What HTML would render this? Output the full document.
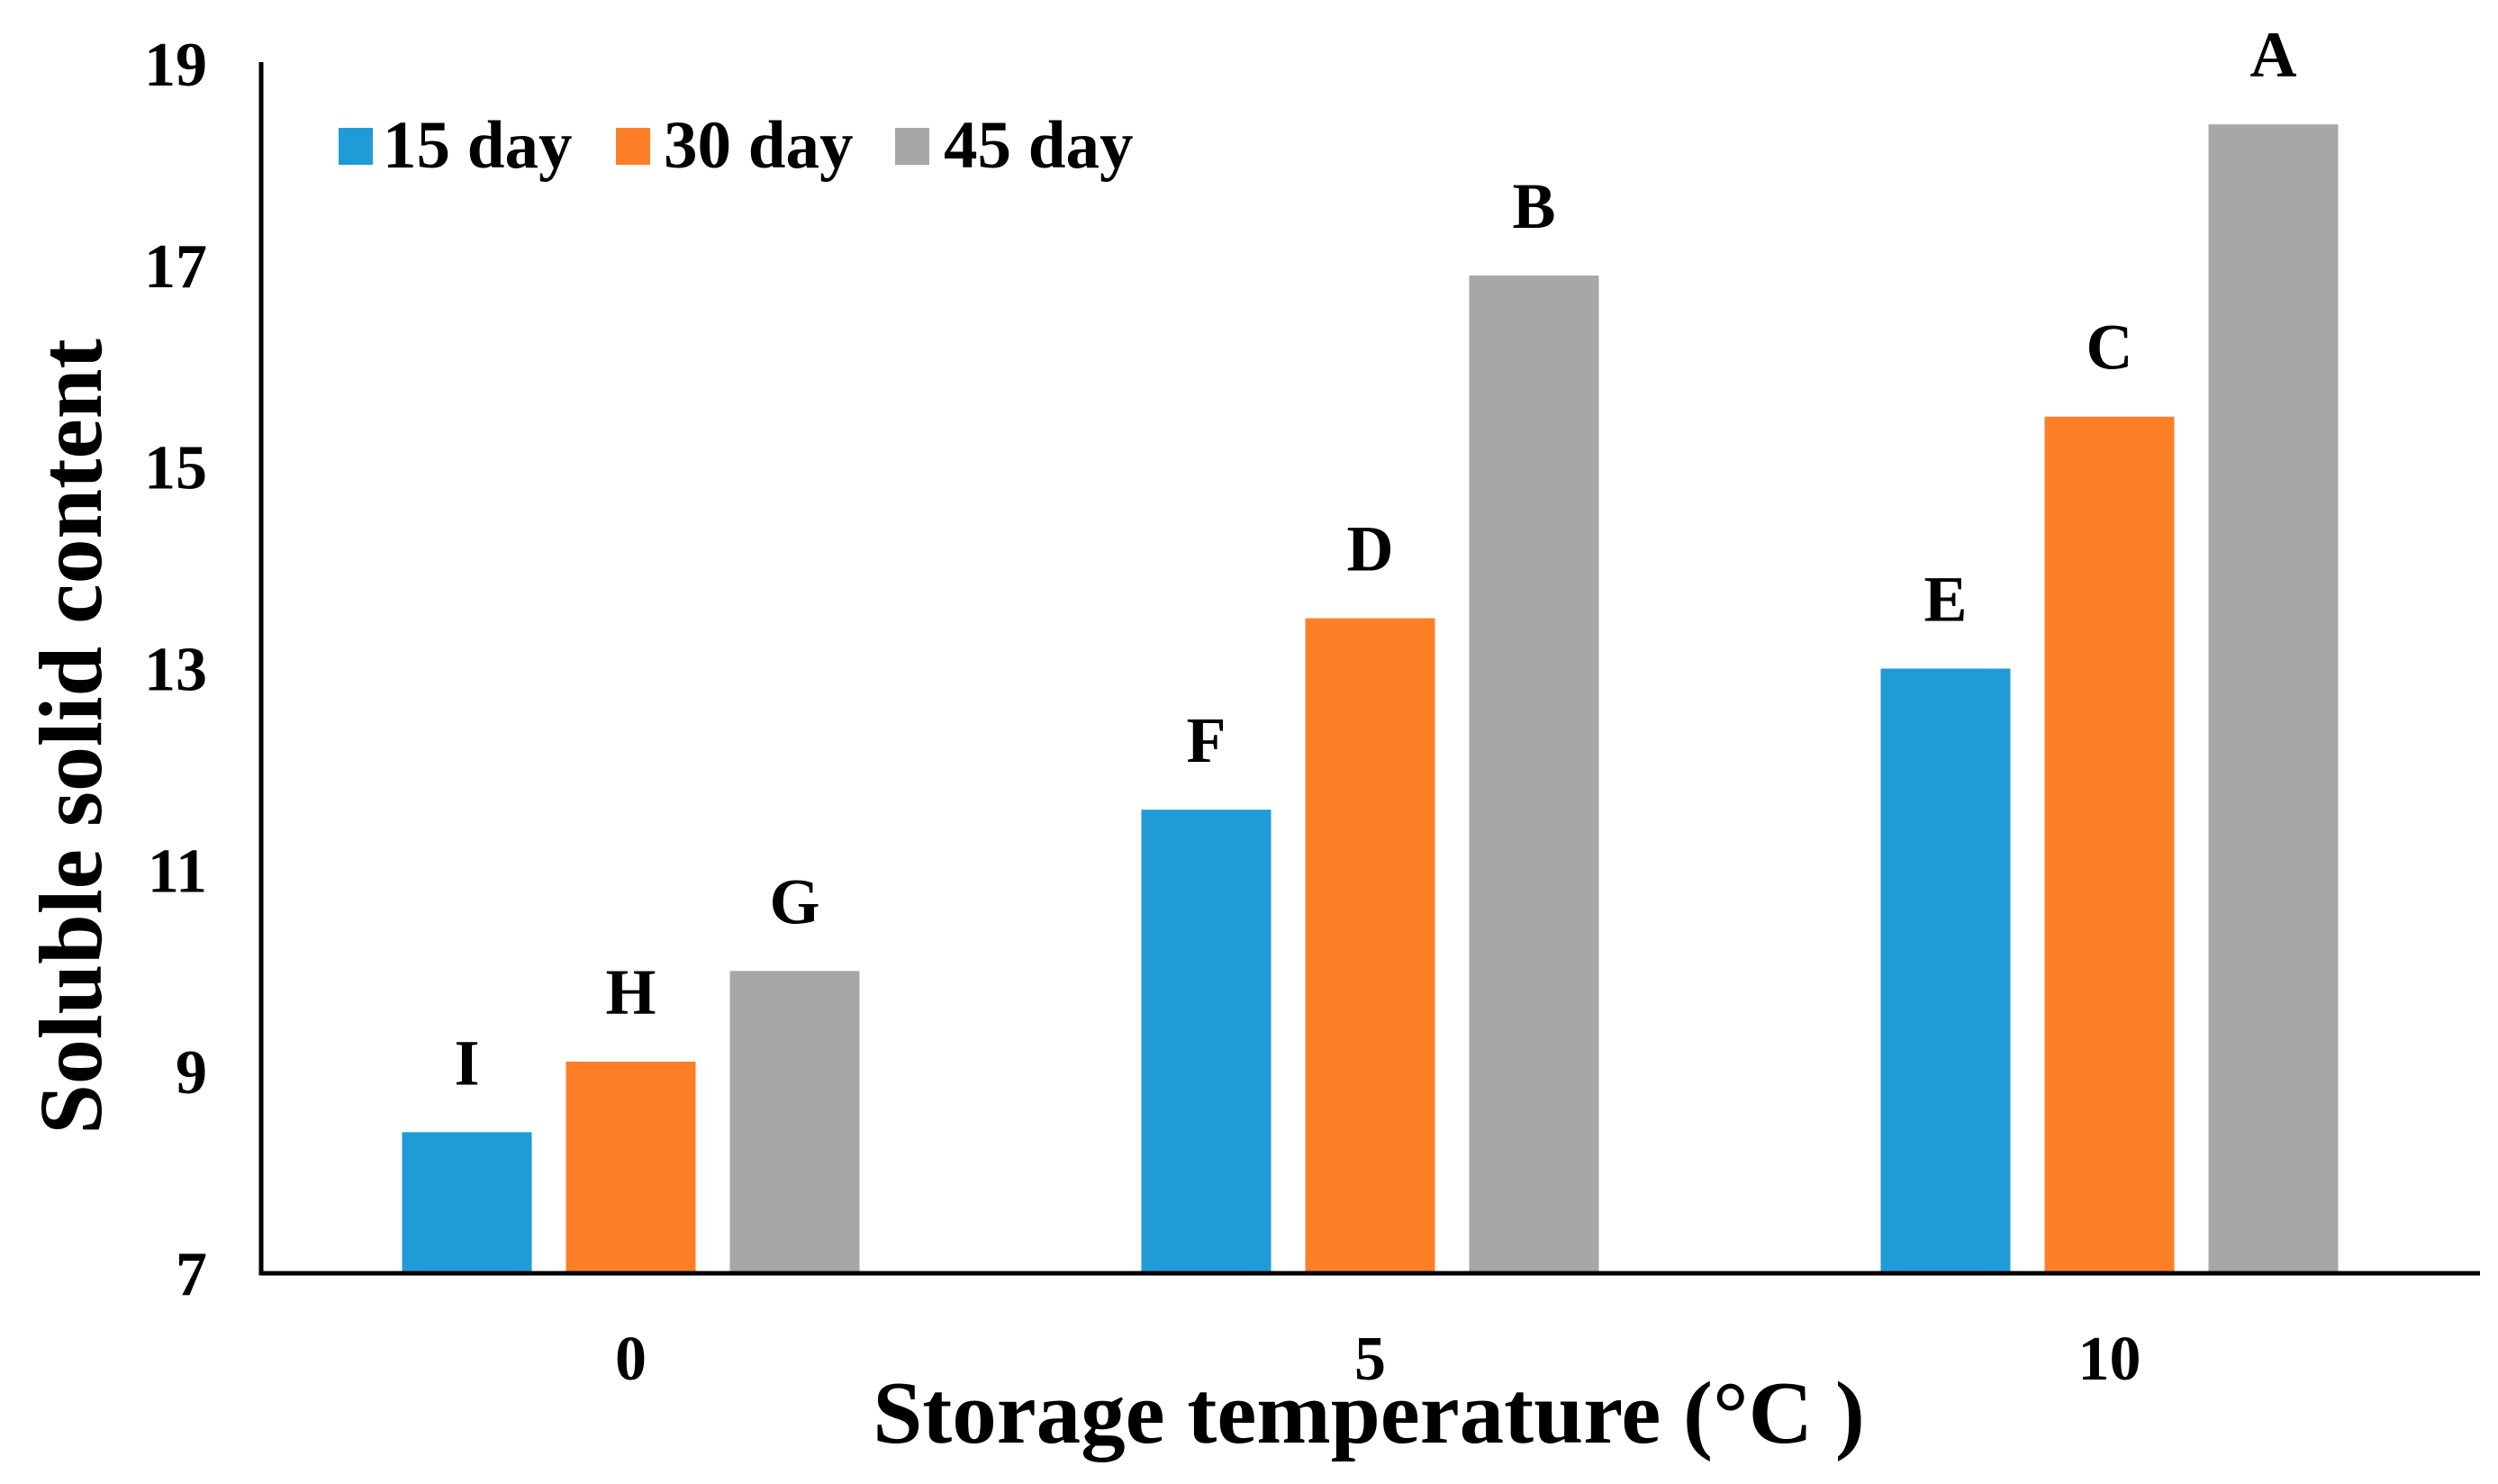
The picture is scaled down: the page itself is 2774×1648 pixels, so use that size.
<!DOCTYPE html>
<html><head><meta charset="utf-8"><style>
html,body{margin:0;padding:0;background:#fff;}
svg text{font-family:"Liberation Serif",serif;font-weight:bold;fill:#000;}
</style></head><body>
<svg id="chart" width="2774" height="1643" viewBox="0 0 2774 1643" xmlns="http://www.w3.org/2000/svg">
<g id="bars"></g>
<g id="labels"></g>
<g id="yticks"></g>
<g id="xticks"></g>
<line x1="290" y1="69" x2="290" y2="1416" stroke="#000" stroke-width="5"/>
<line x1="288" y1="1414" x2="2754" y2="1414" stroke="#000" stroke-width="5"/>
<text transform="translate(112,818) rotate(-90)" text-anchor="middle" font-size="100">Soluble solid content</text>
<text x="1520" y="1602" text-anchor="middle" font-size="99">Storage temperature (°C )</text>
<g>
<rect x="376" y="142" width="38" height="41" fill="#1f9bd7"/>
<text x="425" y="186" font-size="75">15 day</text>
<rect x="684" y="142" width="38" height="41" fill="#fe7f27"/>
<text x="737" y="186" font-size="75">30 day</text>
<rect x="994" y="142" width="38" height="41" fill="#a7a7a7"/>
<text x="1048" y="186" font-size="75">45 day</text>
</g>
</svg>
<script>
const categories = ["0", "5", "10"];
const seriesNames = ["15 day", "30 day", "45 day"];
const day15 = [8.4, 11.6, 13.0];
const day30 = [9.1, 13.5, 15.5];
const day45 = [10.0, 16.9, 18.4];
const letters15 = ["I", "F", "E"];
const letters30 = ["H", "D", "C"];
const letters45 = ["G", "B", "A"];
const yTicks = [7, 9, 11, 13, 15, 17, 19];

const colors = ["#1f9bd7", "#fe7f27", "#a7a7a7"];
const NS = "http://www.w3.org/2000/svg";
const plotLeft = 290, plotRight = 2753, y0 = 1414, yMin = 7, yMax = 19, yTopPx = 71;
function yScale(v){ return y0 - (v - yMin) / (yMax - yMin) * (y0 - yTopPx); }
const band = (plotRight - plotLeft) / categories.length;
function xCenter(i){ return plotLeft + band * (i + 0.5); }
const barW = 144, pitch = 182;

const series = [day15, day30, day45];
const letters = [letters15, letters30, letters45];
const barsG = document.getElementById("bars");
const labelsG = document.getElementById("labels");
series.forEach((vals, s) => {
  vals.forEach((v, i) => {
    const cx = xCenter(i) + (s - 1) * pitch;
    const r = document.createElementNS(NS, "rect");
    r.setAttribute("x", cx - barW / 2);
    r.setAttribute("y", yScale(v));
    r.setAttribute("width", barW);
    r.setAttribute("height", y0 - yScale(v));
    r.setAttribute("fill", colors[s]);
    
    
    barsG.appendChild(r);
    const t = document.createElementNS(NS, "text");
    t.setAttribute("x", cx);
    t.setAttribute("y", yScale(v) - 53);
    t.setAttribute("text-anchor", "middle");
    t.setAttribute("font-size", "72");
    t.textContent = letters[s][i];
    
    
    labelsG.appendChild(t);
  });
});
const ytG = document.getElementById("yticks");
yTicks.forEach(v => {
  const t = document.createElementNS(NS, "text");
  t.setAttribute("x", 230);
  t.setAttribute("y", yScale(v) + 24);
  t.setAttribute("text-anchor", "end");
  t.setAttribute("font-size", "70");
  t.textContent = v;
  
  
  ytG.appendChild(t);
});
const xtG = document.getElementById("xticks");
categories.forEach((c, i) => {
  const t = document.createElementNS(NS, "text");
  t.setAttribute("x", xCenter(i));
  t.setAttribute("y", 1532);
  t.setAttribute("text-anchor", "middle");
  t.setAttribute("font-size", "70");
  t.textContent = c;
  
  
  xtG.appendChild(t);
});
</script>
</body></html>
